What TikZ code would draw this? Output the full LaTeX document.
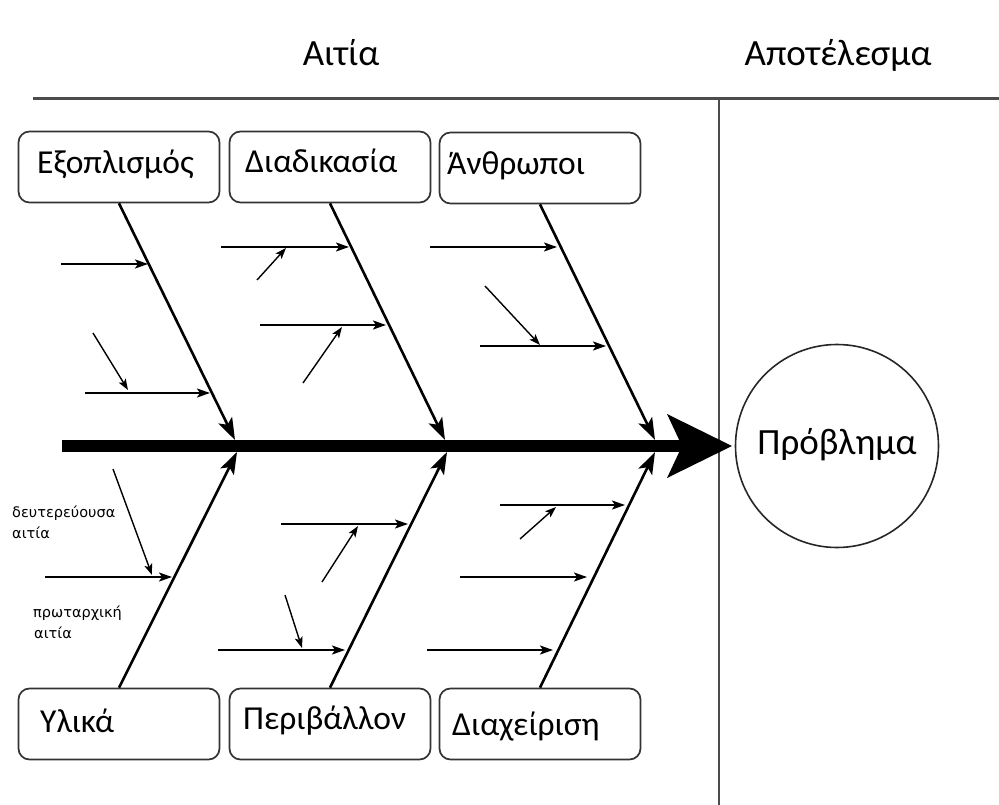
\documentclass[tikz,border=0pt]{standalone}
\usepackage{fontspec}
\setmainfont{Carlito}
\newfontfamily\lblfont{DejaVu Sans}
\usetikzlibrary{arrows.meta,calc}
\begin{document}
\begin{tikzpicture}[x=1pt,y=-1pt,
  box/.style={draw=black!80, line width=1.7pt, rounded corners=11pt, minimum width=201pt, minimum height=71pt, inner sep=0pt},
  boxtext/.style={anchor=base west, font=\fontsize{33.5}{35}\selectfont, inner sep=0pt},
  headtext/.style={anchor=base, font=\fontsize{37}{39}\selectfont, inner sep=0pt},
  lbl/.style={anchor=base west, font=\lblfont\fontsize{14.5}{15}\selectfont, inner sep=0pt},
  bone/.style={line width=2.6pt, -{Stealth[length=22pt,width=15pt,inset=5pt]}},
  sub/.style={line width=2pt, -{Stealth[length=13pt,width=9pt,inset=3pt]}},
  subd/.style={line width=1.4pt, -{Stealth[length=11pt,width=8pt,inset=2.5pt]}},
  frame/.style={draw=black!70}
  ]
\useasboundingbox (0,0) rectangle (999,805);
% header
\node[headtext] (h1) at (341,66) {Αιτία};
\node[headtext] (h2) at (838,66) {Αποτέλεσμα};
\coordinate (hl0) at (33,99); \coordinate (hl1) at (999,99);
\coordinate (vl0) at (719,99); \coordinate (vl1) at (719,805);
\draw[frame, line width=3pt] (hl0) -- (hl1);
\draw[frame, line width=2pt] (vl0) -- (vl1);
% boxes
\node[box] (b1) at (119,167) {};
\node[box] (b2) at (330,167) {};
\node[box] (b3) at (540,168) {};
\node[box] (b4) at (119,724) {};
\node[box] (b5) at (330,724) {};
\node[box] (b6) at (540,724) {};
\node[boxtext] (t1) at (37,174) {Εξοπλισμός};
\node[boxtext] (t2) at (245,173) {Διαδικασία};
\node[boxtext] (t3) at (447,175) {Άνθρωποι};
\node[boxtext] (t4) at (40,732) {Υλικά};
\node[boxtext] (t5) at (243,729) {Περιβάλλον};
\node[boxtext] (t6) at (452,735) {Διαχείριση};
% problem
\node[draw=black!85, line width=1.6pt, circle, minimum size=203pt, inner sep=0pt] (prob) at (837,446) {};
\node[anchor=base, inner sep=0pt, font=\fontsize{37}{39}\selectfont] (probt) at (837,454) {Πρόβλημα};
% spine
\coordinate (sp0) at (62,446); \coordinate (sp1) at (690,446);
\draw[line width=12pt] (sp0) -- (sp1);
\coordinate (hd1) at (667,414); \coordinate (head) at (732,446);
\coordinate (hd2) at (667,478); \coordinate (hd3) at (682,446);
\fill (hd1) -- (head) -- (hd2) -- (hd3) -- cycle;
% bones
\coordinate (k1) at (235,440); \coordinate (k2) at (445,440); \coordinate (k3) at (655,440);
\coordinate (k4) at (237,452); \coordinate (k5) at (447,452); \coordinate (k6) at (655,452);
\draw[bone] (b1.south) -- (k1);
\draw[bone] (b2.south) -- (k2);
\draw[bone] (b3.south) -- (k3);
\draw[bone] (b4.north) -- (k4);
\draw[bone] (b5.north) -- (k5);
\draw[bone] (b6.north) -- (k6);
% sub causes: Εξοπλισμός
\coordinate (e1a) at (61,264); \coordinate (e1b) at (148,264);
\coordinate (e2a) at (85,393); \coordinate (e2b) at (210,393);
\coordinate (e3a) at (93,333); \coordinate (e3b) at (128,390);
\draw[sub] (e1a) -- (e1b);
\draw[sub] (e2a) -- (e2b);
\draw[subd] (e3a) -- (e3b);
% Διαδικασία
\coordinate (d1a) at (221,247); \coordinate (d1b) at (349,247);
\coordinate (d2a) at (257,280); \coordinate (d2b) at (286,248);
\coordinate (d3a) at (260,325); \coordinate (d3b) at (386,325);
\coordinate (d4a) at (303,383); \coordinate (d4b) at (342,327);
\draw[sub] (d1a) -- (d1b);
\draw[subd] (d2a) -- (d2b);
\draw[sub] (d3a) -- (d3b);
\draw[subd] (d4a) -- (d4b);
% Άνθρωποι
\coordinate (a1a) at (430,247); \coordinate (a1b) at (557,247);
\coordinate (a2a) at (485,286); \coordinate (a2b) at (540,345);
\coordinate (a3a) at (480,346); \coordinate (a3b) at (606,346);
\draw[sub] (a1a) -- (a1b);
\draw[subd] (a2a) -- (a2b);
\draw[sub] (a3a) -- (a3b);
% Υλικά
\coordinate (y1a) at (45,577); \coordinate (y1b) at (172,577);
\coordinate (y2a) at (113,469); \coordinate (y2b) at (152,575);
\draw[sub] (y1a) -- (y1b);
\draw[subd] (y2a) -- (y2b);
% Περιβάλλον
\coordinate (p1a) at (281,524); \coordinate (p1b) at (408,524);
\coordinate (p2a) at (322,582); \coordinate (p2b) at (358,526);
\coordinate (p3a) at (218,650); \coordinate (p3b) at (345,650);
\coordinate (p4a) at (285,595); \coordinate (p4b) at (302,648);
\draw[sub] (p1a) -- (p1b);
\draw[subd] (p2a) -- (p2b);
\draw[sub] (p3a) -- (p3b);
\draw[subd] (p4a) -- (p4b);
% Διαχείριση
\coordinate (m1a) at (500,505); \coordinate (m1b) at (625,505);
\coordinate (m2a) at (520,539); \coordinate (m2b) at (556,507);
\coordinate (m3a) at (460,577); \coordinate (m3b) at (587,577);
\coordinate (m4a) at (427,650); \coordinate (m4b) at (553,650);
\draw[sub] (m1a) -- (m1b);
\draw[subd] (m2a) -- (m2b);
\draw[sub] (m3a) -- (m3b);
\draw[sub] (m4a) -- (m4b);
% labels
\node[lbl] (l1) at (12,517) {δευτερεύουσα};
\node[lbl] (l2) at (12,538) {αιτία};
\node[lbl] (l3) at (33,617) {πρωταρχική};
\node[lbl] (l4) at (34,638) {αιτία};
\end{tikzpicture}
\end{document}
